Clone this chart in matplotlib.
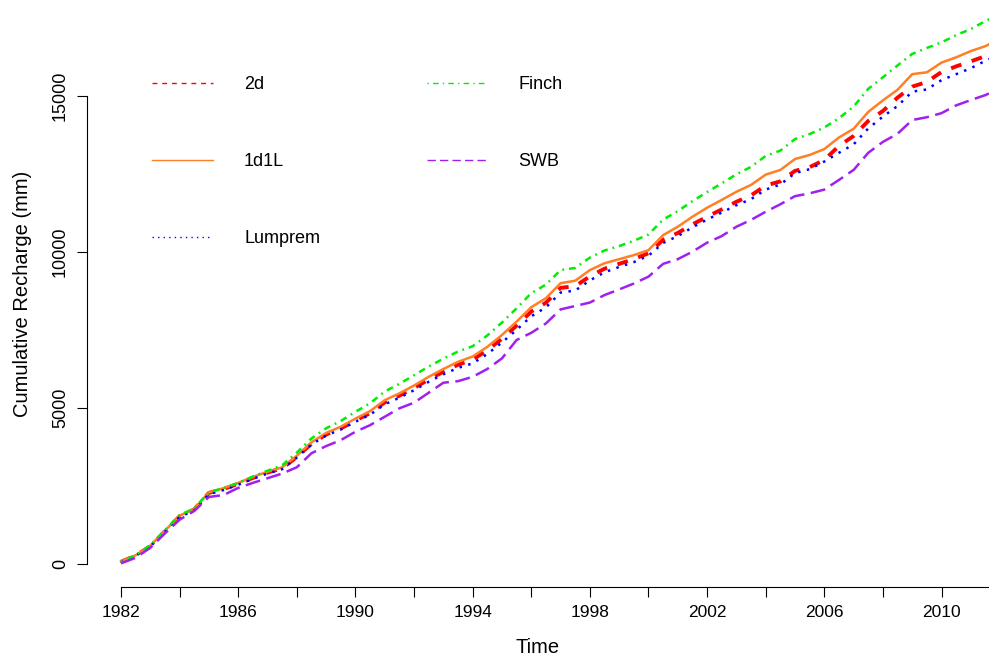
import numpy as np
import matplotlib
matplotlib.use("Agg")
import matplotlib.pyplot as plt
import matplotlib.lines as mlines

plt.rcParams['font.family'] = ['Liberation Sans', 'DejaVu Sans']

# half-yearly time steps, Jan 1982 .. Jan 2012
time = np.arange(1982.0, 2012.01, 0.5)

rech_2d = [70, 270, 570, 1050, 1530, 1750, 2280, 2405, 2570, 2760, 2930, 3065,
           3430, 3855, 4150, 4345, 4600, 4835, 5180, 5395, 5640, 5915, 6160, 6385,
           6550, 6850, 7220, 7640, 8090, 8375, 8850, 8905, 9220, 9465, 9620, 9775,
           9960, 10390, 10610, 10885, 11130, 11365, 11610, 11815, 12130, 12265, 12600, 12720,
           12950, 13400, 13720, 14200, 14520, 14950, 15300, 15450, 15770, 15950, 16110, 16280,
           16480]
rech_1d1l = [80, 280, 590, 1070, 1550, 1770, 2300, 2430, 2600, 2790, 2960, 3100,
             3470, 3900, 4200, 4400, 4660, 4900, 5250, 5470, 5720, 6000, 6250, 6480,
             6650, 6960, 7340, 7770, 8230, 8520, 9000, 9080, 9420, 9640, 9770, 9900,
             10060, 10540, 10810, 11130, 11420, 11670, 11930, 12150, 12480, 12630, 12980, 13110,
             13300, 13670, 13950, 14490, 14860, 15200, 15700, 15760, 16070, 16240, 16440, 16600,
             16830]
rech_lumprem = [60, 265, 560, 1035, 1510, 1720, 2240, 2370, 2540, 2730, 2900, 3040,
                3410, 3830, 4120, 4310, 4560, 4785, 5120, 5330, 5570, 5840, 6080, 6285,
                6430, 6730, 7100, 7505, 7940, 8225, 8700, 8765, 9090, 9350, 9520, 9675,
                9880, 10290, 10510, 10790, 11040, 11265, 11500, 11695, 12000, 12165, 12530, 12655,
                12900, 13180, 13450, 13960, 14340, 14680, 15140, 15210, 15510, 15700, 15890, 16130,
                16330]
rech_finch = [80, 285, 600, 1085, 1570, 1780, 2300, 2430, 2600, 2805, 2990, 3165,
              3570, 4025, 4350, 4585, 4880, 5150, 5530, 5775, 6050, 6330, 6580, 6810,
              6980, 7325, 7740, 8195, 8680, 8955, 9420, 9490, 9820, 10050, 10190, 10360,
              10560, 11040, 11310, 11630, 11920, 12200, 12490, 12730, 13080, 13250, 13620, 13780,
              13990, 14290, 14660, 15230, 15600, 15980, 16350, 16540, 16720, 16950, 17150, 17400,
              17650]
rech_swb = [20, 200, 520, 980, 1420, 1700, 2150, 2210, 2440, 2600, 2750, 2900,
            3100, 3550, 3780, 3970, 4240, 4450, 4720, 4990, 5170, 5490, 5810, 5860,
            6000, 6250, 6590, 7180, 7410, 7710, 8160, 8270, 8380, 8620, 8800, 8990,
            9210, 9620, 9770, 10010, 10300, 10510, 10810, 11030, 11290, 11530, 11790, 11880,
            12000, 12310, 12630, 13180, 13530, 13790, 14230, 14320, 14450, 14700, 14870, 15030,
            15250]

x_ticks = list(range(1982, 2011, 2))
x_labels = [str(y) if (y - 1982) % 4 == 0 else '' for y in x_ticks]
y_ticks = [0, 5000, 10000, 15000]

W, H = 989, 661
fig = plt.figure(figsize=(W / 100, H / 100), dpi=100)
ax = fig.add_axes([87 / W, 1 - 587 / H, 1 - 87 / W, 587 / H])

ax.plot(time, rech_2d, color='red', lw=2.8, dashes=(2.8, 2.8))
ax.plot(time, rech_1d1l, color='#ff7f24', lw=1.8)
ax.plot(time, rech_lumprem, color='blue', lw=1.8, dashes=(1, 2.6))
ax.plot(time, rech_finch, color='#00ee00', lw=1.8, dashes=(0.7, 2, 2.7, 2))
ax.plot(time, rech_swb, color='#a020f0', lw=1.8, dashes=(6, 2.6))

ax.set_xlim(1980.84, 2011.62)
ax.set_ylim(-737, 18077)

for s in ['top', 'right']:
    ax.spines[s].set_visible(False)
ax.spines['bottom'].set_bounds(1982, 2011.62)
ax.spines['left'].set_bounds(0, 15000)
ax.set_xticks(x_ticks)
ax.set_xticklabels(x_labels, fontsize=12.5)
ax.set_yticks(y_ticks)
ax.set_yticklabels([str(v) for v in y_ticks], fontsize=13, rotation=90, va='center')
ax.tick_params(length=7, width=0.8, pad=6)
ax.set_xlabel('Time', fontsize=14.5, labelpad=13)
ax.set_ylabel('Cumulative Recharge (mm)', fontsize=14.5, labelpad=14)

# legend lines are drawn thin, like the R default
h = [mlines.Line2D([], [], color='red', lw=1, dashes=(3.5, 3.5)),
     mlines.Line2D([], [], color='#ff7f24', lw=1),
     mlines.Line2D([], [], color='blue', lw=1, dashes=(1, 3)),
     mlines.Line2D([], [], color='#00ee00', lw=1, dashes=(1, 3, 4, 3)),
     mlines.Line2D([], [], color='#a020f0', lw=1, dashes=(6, 3))]
ax.legend(h, ['2d', '1d1L', 'Lumprem', 'Finch', 'SWB'], ncol=2, frameon=False,
          loc='upper left', bbox_to_anchor=(152 / W, 1 - 76 / H),
          bbox_transform=fig.transFigure, borderpad=0, borderaxespad=0,
          fontsize=13, handlelength=3.4, handletextpad=1.7,
          columnspacing=5.9, labelspacing=3.33)

fig.savefig('out.png', dpi=100)
